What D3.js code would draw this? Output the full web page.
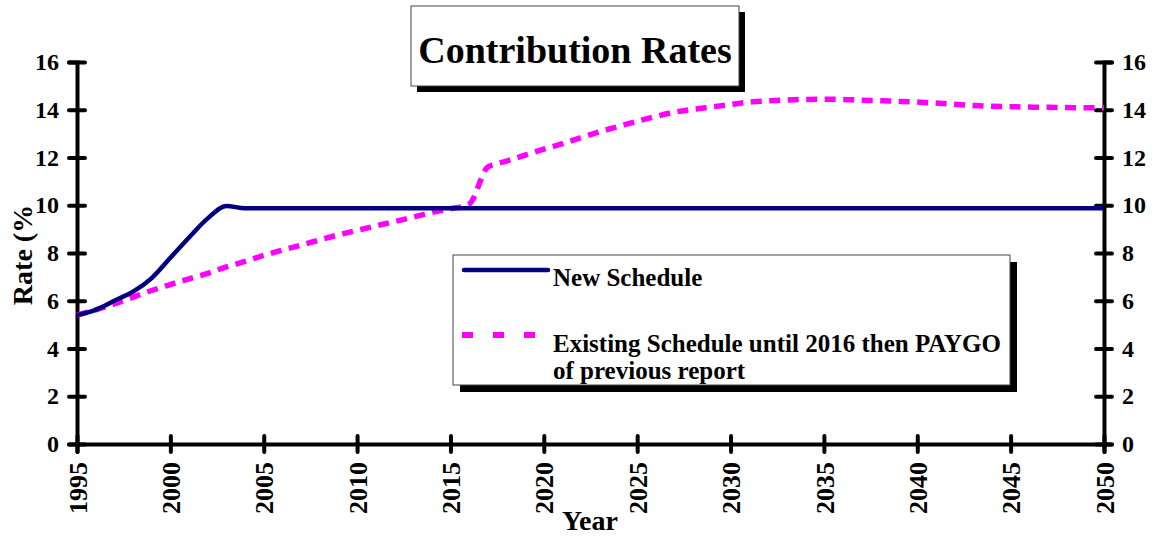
<!DOCTYPE html>
<html>
<head>
<meta charset="utf-8">
<script src="https://cdn.jsdelivr.net/npm/d3@7"></script>
<style>
  body { margin: 0; background: #fff; }
  svg text { font-family: "Liberation Serif", "Times New Roman", serif; font-weight: bold; fill: #000; }
</style>
</head>
<body>
<div id="chart"></div>
<script>
// years on the x axis
var years = d3.range(1995, 2051);
// New Schedule, % of payroll
var newSchedule = [5.40, 5.62, 6.00, 6.38, 6.95, 7.80, 8.65, 9.45, 9.97, 9.87,
    9.87, 9.87, 9.87, 9.87, 9.87, 9.87, 9.87, 9.87, 9.87, 9.87,
    9.87, 9.87, 9.87, 9.87, 9.87, 9.87, 9.87, 9.87, 9.87, 9.87,
    9.87, 9.87, 9.87, 9.87, 9.87, 9.87, 9.87, 9.87, 9.87, 9.87,
    9.87, 9.87, 9.87, 9.87, 9.87, 9.87, 9.87, 9.87, 9.87, 9.87,
    9.87, 9.87, 9.87, 9.87, 9.87, 9.87];
// Existing Schedule until 2016 then PAYGO
var existingSchedule = [5.40, 5.62, 5.87, 6.15, 6.43, 6.68, 6.92, 7.15, 7.42, 7.65,
    7.90, 8.12, 8.33, 8.55, 8.76, 8.95, 9.13, 9.32, 9.50, 9.70,
    9.85, 10.05, 11.60, 11.85, 12.10, 12.35, 12.58, 12.84, 13.08, 13.30,
    13.52, 13.72, 13.90, 14.02, 14.12, 14.22, 14.32, 14.37, 14.41, 14.43,
    14.44, 14.43, 14.40, 14.38, 14.35, 14.32, 14.28, 14.23, 14.18, 14.15,
    14.13, 14.11, 14.10, 14.09, 14.08, 14.08];
var xTicks = [1995, 2000, 2005, 2010, 2015, 2020, 2025, 2030, 2035, 2040, 2045, 2050];
var yTicks = [0, 2, 4, 6, 8, 10, 12, 14, 16];
var seriesNames = ["New Schedule", "Existing Schedule until 2016 then PAYGO", "of previous report"];

var width = 1152, height = 537;
var plotLeft = 77, plotRight = 1104, plotTop = 62, plotBottom = 444;

var svg = d3.select("#chart").append("svg")
    .attr("width", width)
    .attr("height", height);

var x = d3.scaleLinear().domain([1995, 2050]).range([plotLeft, plotRight]);
var y = d3.scaleLinear().domain([0, 16]).range([plotBottom, plotTop]);

// axes - ticks cross the axis line
function styleAxis(g) {
    g.select(".domain").attr("stroke", "#000").attr("stroke-width", 4).attr("stroke-linecap", "round");
    g.selectAll(".tick line").attr("stroke", "#000").attr("stroke-width", 4).attr("stroke-linecap", "round");
}

var yl = svg.append("g")
    .attr("transform", "translate(" + plotLeft + ",0)")
    .call(d3.axisLeft(y).tickValues(yTicks).tickSizeOuter(0).tickSize(8).tickPadding(10));
yl.call(styleAxis);
yl.selectAll(".tick line").attr("x1", 8).attr("x2", -8);
yl.selectAll("text").style("font-size", "24px").attr("font-family", null);

var yr = svg.append("g")
    .attr("transform", "translate(" + plotRight + ",0)")
    .call(d3.axisRight(y).tickValues(yTicks).tickSizeOuter(0).tickSize(8).tickPadding(10));
yr.call(styleAxis);
yr.selectAll(".tick line").attr("x1", -8).attr("x2", 8);
yr.selectAll("text").style("font-size", "24px").attr("font-family", null);

var xa = svg.append("g")
    .attr("transform", "translate(0," + plotBottom + ")")
    .call(d3.axisBottom(x).tickValues(xTicks).tickFormat(d3.format("d")).tickSizeOuter(0).tickSize(8));
xa.call(styleAxis);
xa.selectAll(".tick line").attr("y1", -8).attr("y2", 8);
xa.selectAll("text")
    .attr("font-family", null)
    .style("font-size", "26px")
    .attr("transform", "rotate(-90)")
    .attr("x", -18)
    .attr("y", 0)
    .attr("dy", "0.35em")
    .style("text-anchor", "end");

// axis titles
svg.append("text")
    .attr("transform", "translate(32,255) rotate(-90)")
    .style("text-anchor", "middle")
    .style("font-size", "28px")
    .text("Rate (%");

svg.append("text")
    .attr("x", 590)
    .attr("y", 530)
    .style("text-anchor", "middle")
    .style("font-size", "28px")
    .text("Year");

// lines
var line = d3.line()
    .x(function(d, i) { return x(years[i]); })
    .y(function(d) { return y(d); })
    .curve(d3.curveMonotoneX);

svg.append("path")
    .datum(existingSchedule)
    .attr("d", line)
    .attr("fill", "none")
    .attr("stroke", "#ff00ff")
    .attr("stroke-width", 5.5)
    .attr("stroke-dasharray", "11,7.5");

svg.append("path")
    .datum(newSchedule)
    .attr("d", line)
    .attr("fill", "none")
    .attr("stroke", "#000080")
    .attr("stroke-width", 4.5)
    .attr("stroke-linejoin", "round");

// title box with shadow
svg.append("rect").attr("x", 417).attr("y", 12).attr("width", 328).attr("height", 80).attr("fill", "#000");
svg.append("rect").attr("x", 411).attr("y", 6).attr("width", 328).attr("height", 80)
    .attr("fill", "#fff").attr("stroke", "#444").attr("stroke-width", 1);
svg.append("text")
    .attr("x", 575)
    .attr("y", 63)
    .style("text-anchor", "middle")
    .style("font-size", "38px")
    .text("Contribution Rates");

// legend with shadow
var lg = svg.append("g");
lg.append("rect").attr("x", 460).attr("y", 262).attr("width", 557).attr("height", 130).attr("fill", "#000");
lg.append("rect").attr("x", 453).attr("y", 255).attr("width", 557).attr("height", 130)
    .attr("fill", "#fff").attr("stroke", "#444").attr("stroke-width", 1);
lg.append("line")
    .attr("x1", 464).attr("x2", 548).attr("y1", 270).attr("y2", 270)
    .attr("stroke", "#000080").attr("stroke-width", 4.5).attr("stroke-linecap", "round");
lg.append("line")
    .attr("x1", 462).attr("x2", 536).attr("y1", 335).attr("y2", 335)
    .attr("stroke", "#ff00ff").attr("stroke-width", 6).attr("stroke-dasharray", "11,20");
lg.append("text").attr("x", 553).attr("y", 286).style("font-size", "25px").text(seriesNames[0]);
lg.append("text").attr("x", 553).attr("y", 352).style("font-size", "25px").text(seriesNames[1]);
lg.append("text").attr("x", 553).attr("y", 379).style("font-size", "25px").text(seriesNames[2]);
</script>
</body>
</html>
